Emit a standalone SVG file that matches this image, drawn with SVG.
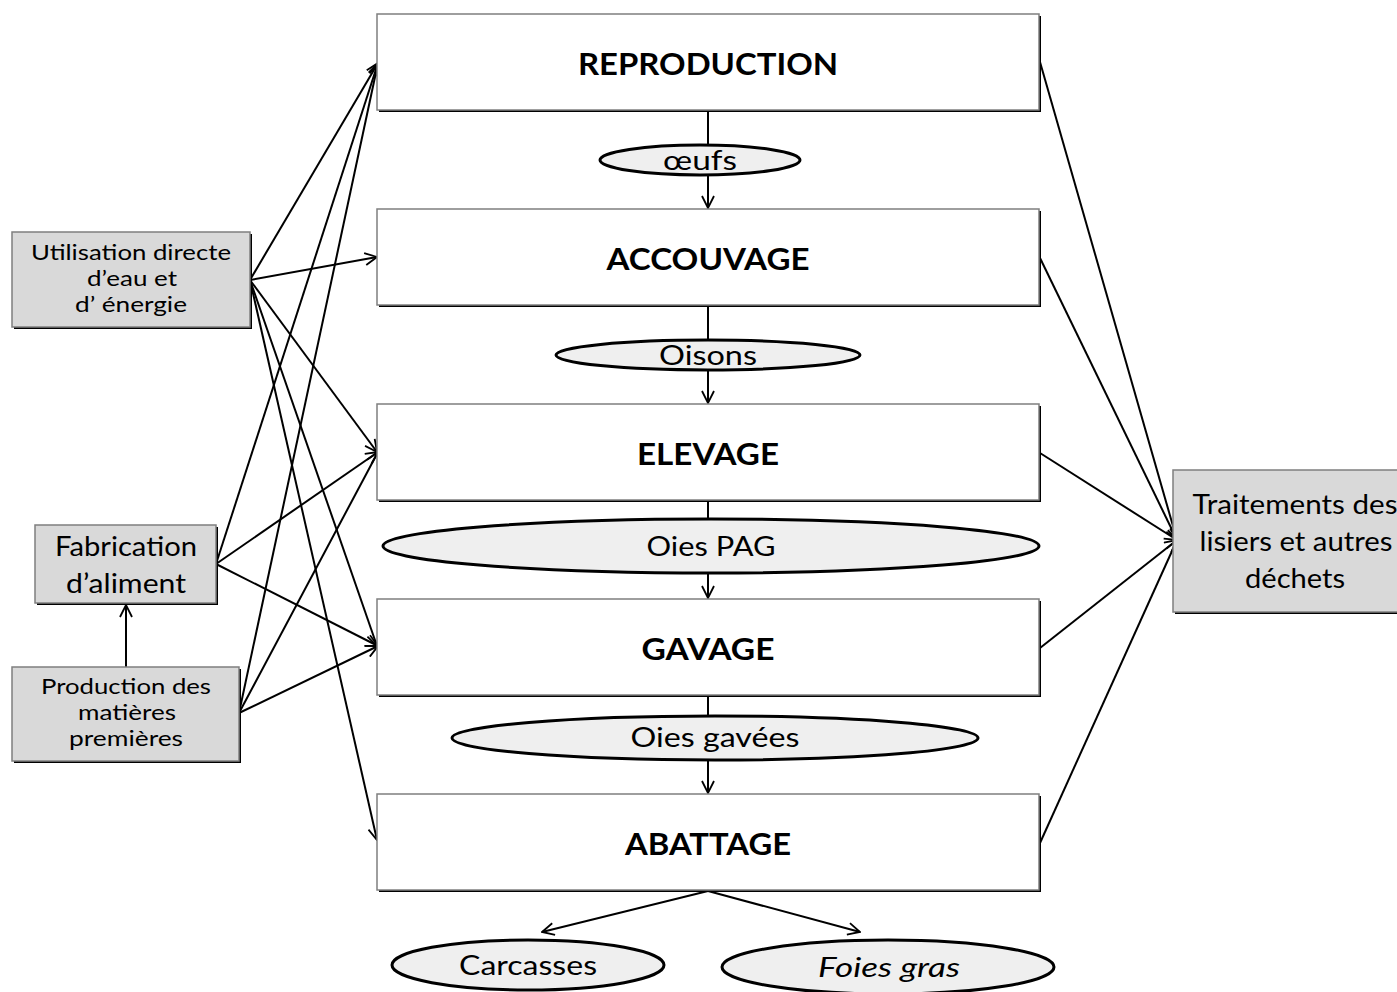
<svg xmlns="http://www.w3.org/2000/svg" width="1397" height="992" viewBox="0 0 1397 992">
<style>
.box{fill:#fff;stroke:#7f7f7f;stroke-width:1.5}
.gbox{fill:#d9d9d9;stroke:#7f7f7f;stroke-width:1.5}
.sh{fill:#000}
.ell{fill:#efefef;stroke:#000;stroke-width:3}
.t{font-family:Lato,"Open Sans","Liberation Sans",sans-serif;fill:#000;text-anchor:middle}
.tb{font-weight:bold;font-size:31px}
.ts{font-size:21.5px}
.tm{font-size:27px}
.te{font-size:27px}
.c{stroke:#000;stroke-width:2;fill:none;marker-end:url(#a)}
</style>
<defs>
<marker id="a" viewBox="0 0 14 14" refX="13" refY="7" markerWidth="14" markerHeight="14" markerUnits="userSpaceOnUse" orient="auto">
<path d="M1,1 L13,7 L1,13" fill="none" stroke="#000" stroke-width="1.8"/>
</marker>
</defs>
<g id="connectors">
<line class="c" x1="250" y1="280" x2="378" y2="63"/>
<line class="c" x1="250" y1="280" x2="377" y2="257"/>
<line class="c" x1="250" y1="280" x2="377" y2="452"/>
<line class="c" x1="250" y1="280" x2="377" y2="646"/>
<line class="c" x1="250" y1="280" x2="377" y2="840"/>
<line class="c" x1="216" y1="564" x2="378" y2="63"/>
<line class="c" x1="216" y1="564" x2="378" y2="452"/>
<line class="c" x1="216" y1="564" x2="378" y2="646"/>
<line class="c" x1="239" y1="713" x2="378" y2="63"/>
<line class="c" x1="239" y1="713" x2="378" y2="452"/>
<line class="c" x1="239" y1="713" x2="378" y2="646"/>
<line class="c" x1="126" y1="667" x2="126" y2="605"/>
<line class="c" x1="1040" y1="62" x2="1177" y2="540"/>
<line class="c" x1="1040" y1="258" x2="1177" y2="540"/>
<line class="c" x1="1040" y1="453" x2="1177" y2="540"/>
<line class="c" x1="1040" y1="648" x2="1177" y2="540"/>
<line class="c" x1="1040" y1="843" x2="1177" y2="540"/>
<line class="c" x1="708" y1="110" x2="708" y2="208"/>
<line class="c" x1="708" y1="305" x2="708" y2="403"/>
<line class="c" x1="708" y1="500" x2="708" y2="598"/>
<line class="c" x1="708" y1="695" x2="708" y2="793"/>
<line class="c" x1="708" y1="891" x2="542" y2="932"/>
<line class="c" x1="708" y1="891" x2="860" y2="932"/>
</g>
<g id="reproduction">
<rect class="sh" x="379" y="16" width="662" height="96"/>
<rect class="box" x="377" y="14" width="662" height="96"/>
<text class="t tb" x="708" y="75" textLength="260" lengthAdjust="spacingAndGlyphs">REPRODUCTION</text>
</g>
<g id="accouvage">
<rect class="sh" x="379" y="211" width="662" height="96"/>
<rect class="box" x="377" y="209" width="662" height="96"/>
<text class="t tb" x="708" y="270" textLength="203" lengthAdjust="spacingAndGlyphs">ACCOUVAGE</text>
</g>
<g id="elevage">
<rect class="sh" x="379" y="406" width="662" height="96"/>
<rect class="box" x="377" y="404" width="662" height="96"/>
<text class="t tb" x="708" y="465" textLength="142" lengthAdjust="spacingAndGlyphs">ELEVAGE</text>
</g>
<g id="gavage">
<rect class="sh" x="379" y="601" width="662" height="96"/>
<rect class="box" x="377" y="599" width="662" height="96"/>
<text class="t tb" x="708" y="660" textLength="133" lengthAdjust="spacingAndGlyphs">GAVAGE</text>
</g>
<g id="abattage">
<rect class="sh" x="379" y="796" width="662" height="96"/>
<rect class="box" x="377" y="794" width="662" height="96"/>
<text class="t tb" x="708" y="855" textLength="166" lengthAdjust="spacingAndGlyphs">ABATTAGE</text>
</g>
<g id="oeufs">
<ellipse class="ell" cx="700" cy="160" rx="100" ry="15"/>
<text class="t te" x="700" y="170" textLength="74" lengthAdjust="spacingAndGlyphs">œufs</text>
</g>
<g id="oisons">
<ellipse class="ell" cx="708" cy="355" rx="152" ry="15"/>
<text class="t te" x="708" y="365" textLength="98" lengthAdjust="spacingAndGlyphs">Oisons</text>
</g>
<g id="oies-pag">
<ellipse class="ell" cx="711" cy="546" rx="328" ry="27"/>
<text class="t te" x="711" y="556" textLength="129" lengthAdjust="spacingAndGlyphs">Oies PAG</text>
</g>
<g id="oies-gavees">
<ellipse class="ell" cx="715" cy="738" rx="263" ry="22"/>
<text class="t te" x="715" y="747" textLength="169" lengthAdjust="spacingAndGlyphs">Oies gavées</text>
</g>
<g id="carcasses">
<ellipse class="ell" cx="528" cy="965" rx="136" ry="25"/>
<text class="t te" x="528" y="975" textLength="138" lengthAdjust="spacingAndGlyphs">Carcasses</text>
</g>
<g id="foies-gras">
<ellipse class="ell" cx="888" cy="967" rx="166" ry="27"/>
<text class="t te" x="889" y="977" font-style="italic" textLength="142" lengthAdjust="spacingAndGlyphs">Foies gras</text>
</g>
<g id="utilisation">
<rect class="sh" x="14" y="234" width="238" height="95"/>
<rect class="gbox" x="12" y="232" width="238" height="95"/>
<text class="t ts" x="131" y="260" textLength="200" lengthAdjust="spacingAndGlyphs">Utilisation directe</text>
<text class="t ts" x="132" y="286" textLength="90" lengthAdjust="spacingAndGlyphs">d’eau et</text>
<text class="t ts" x="131" y="312" textLength="112" lengthAdjust="spacingAndGlyphs">d’ énergie</text>
</g>
<g id="fabrication">
<rect class="sh" x="37" y="527" width="181" height="78"/>
<rect class="gbox" x="35" y="525" width="181" height="78"/>
<text class="t tm" x="126" y="556" textLength="142" lengthAdjust="spacingAndGlyphs">Fabrication</text>
<text class="t tm" x="126" y="593" textLength="120" lengthAdjust="spacingAndGlyphs">d’aliment</text>
</g>
<g id="production">
<rect class="sh" x="14" y="669" width="227" height="94"/>
<rect class="gbox" x="12" y="667" width="227" height="94"/>
<text class="t ts" x="126" y="694" textLength="170" lengthAdjust="spacingAndGlyphs">Production des</text>
<text class="t ts" x="127" y="720" textLength="98" lengthAdjust="spacingAndGlyphs">matières</text>
<text class="t ts" x="126" y="746" textLength="114" lengthAdjust="spacingAndGlyphs">premières</text>
</g>
<g id="traitements">
<rect class="sh" x="1175" y="472" width="224" height="142"/>
<rect class="gbox" x="1173" y="470" width="226" height="142"/>
<text class="t tm" x="1295" y="514" textLength="205" lengthAdjust="spacingAndGlyphs">Traitements des</text>
<text class="t tm" x="1296" y="551" textLength="193" lengthAdjust="spacingAndGlyphs">lisiers et autres</text>
<text class="t tm" x="1295" y="588" textLength="100" lengthAdjust="spacingAndGlyphs">déchets</text>
</g>
</svg>
